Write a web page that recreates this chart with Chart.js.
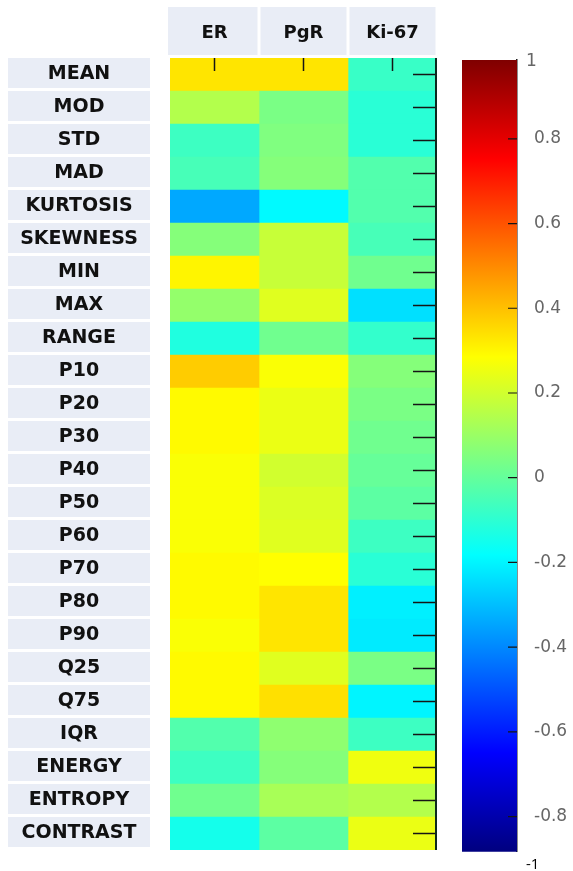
<!DOCTYPE html>
<html>
<head>
<meta charset="utf-8">
<title>Feature correlation heatmap</title>
<script src="https://cdn.jsdelivr.net/npm/chart.js@4"></script>
<style>
  html, body { margin: 0; padding: 0; background: #fff; }
  #wrap { position: relative; width: 573px; height: 871px; }
  #heatBox { position: absolute; left: 0; top: 0; width: 440px; height: 871px; }
  #scaleBox { position: absolute; left: 440px; top: 0; width: 133px; height: 871px; }
</style>
</head>
<body>
<div id="wrap">
  <div id="heatBox"><canvas id="heatChart"></canvas></div>
  <div id="scaleBox"><canvas id="scaleChart"></canvas></div>
</div>
<script>
'use strict'

// rows of the heatmap
let features = ['MEAN', 'MOD', 'STD', 'MAD', 'KURTOSIS', 'SKEWNESS', 'MIN', 'MAX', 'RANGE',
  'P10', 'P20', 'P30', 'P40', 'P50', 'P60', 'P70', 'P80', 'P90', 'Q25', 'Q75', 'IQR',
  'ENERGY', 'ENTROPY', 'CONTRAST'];

// columns
let markers = ['ER', 'PgR', 'Ki-67'];

// correlation values (jet map, -1..1)
let erValues = [0.30, 0.10, -0.13, -0.11, -0.42, 0.01, 0.27, 0.04, -0.19,
  0.35, 0.26, 0.26, 0.24, 0.24, 0.24, 0.26, 0.26, 0.24, 0.26, 0.26, -0.09,
  -0.13, -0.03, -0.21];
let pgrValues = [0.30, -0.01, 0.00, 0.01, -0.26, 0.14, 0.14, 0.19, -0.03,
  0.24, 0.21, 0.21, 0.16, 0.18, 0.19, 0.25, 0.30, 0.30, 0.19, 0.31, 0.03,
  0.01, 0.08, -0.07];
let ki67Values = [-0.14, -0.17, -0.17, -0.09, -0.09, -0.11, -0.03, -0.31, -0.15,
  0.01, -0.01, -0.03, -0.05, -0.07, -0.13, -0.17, -0.28, -0.29, -0.01, -0.27, -0.13,
  0.22, 0.10, 0.21];

// colour bar
let scaleTicks = [1, 0.8, 0.6, 0.4, 0.2, 0, -0.2, -0.4, -0.6, -0.8, -1];
let scaleTop = 0.986;
let scaleBottom = -0.883;

function jet(v) {
  let t = (v + 1) / 2;
  let clamp = x => Math.max(0, Math.min(1, x));
  let r = clamp(1.5 - Math.abs(4 * t - 3));
  let g = clamp(1.5 - Math.abs(4 * t - 2));
  let b = clamp(1.5 - Math.abs(4 * t - 1));
  return 'rgb(' + Math.round(r * 255) + ',' + Math.round(g * 255) + ',' + Math.round(b * 255) + ')';
}

let boxColor = '#e9edf6';
let headerFont = 'bold 18px "DejaVu Sans"';
let rowFont = 'bold 19px "DejaVu Sans"';

let heatDecor = {
  id: 'heatDecor',
  beforeDraw(chart) {
    let ctx = chart.ctx;
    let x = chart.scales.x;
    let y = chart.scales.y;
    let rowH = (y.bottom - y.top) / features.length;
    ctx.save();
    ctx.textAlign = 'center';
    ctx.textBaseline = 'middle';

    // column headers
    ctx.font = headerFont;
    for (let c = 0; c < markers.length; c++) {
      let x0 = x.getPixelForValue(c) + (c === 0 ? -2 : 1.5);
      let x1 = x.getPixelForValue(c + 1) - 1.5;
      ctx.fillStyle = boxColor;
      ctx.fillRect(x0, 7, x1 - x0, 48);
      ctx.fillStyle = '#111';
      ctx.fillText(markers[c], x.getPixelForValue(c + 0.5), 33);
    }

    // row labels
    ctx.font = rowFont;
    for (let i = 0; i < features.length; i++) {
      let yc = y.getPixelForValue(i);
      ctx.fillStyle = boxColor;
      ctx.fillRect(8, yc - rowH / 2, 142, rowH - 3);
      ctx.fillStyle = '#111';
      ctx.fillText(features[i], 79, yc);
    }
    ctx.restore();
  },
  afterDatasetsDraw(chart) {
    let ctx = chart.ctx;
    let x = chart.scales.x;
    let y = chart.scales.y;
    let area = chart.chartArea;
    ctx.save();
    ctx.strokeStyle = '#151515';
    ctx.lineWidth = 1.5;
    ctx.beginPath();
    for (let c = 0; c < markers.length; c++) {
      let px = x.getPixelForValue(c + 0.5);
      ctx.moveTo(px, area.top);
      ctx.lineTo(px, area.top + 13);
    }
    for (let i = 0; i < features.length; i++) {
      let py = y.getPixelForValue(i);
      ctx.moveTo(area.right - 24, py);
      ctx.lineTo(area.right, py);
    }
    ctx.stroke();
    ctx.strokeStyle = '#0d2a1f';
    ctx.lineWidth = 2;
    ctx.beginPath();
    ctx.moveTo(area.right - 1, area.top);
    ctx.lineTo(area.right - 1, area.bottom);
    ctx.stroke();
    ctx.restore();
  }
};

let columns = [erValues, pgrValues, ki67Values];
let heatDatasets = [];
for (let c = 0; c < markers.length; c++) {
  heatDatasets.push({
    label: markers[c],
    data: features.map(() => [c, c + 1]),
    backgroundColor: columns[c].map(jet),
    borderWidth: 0,
    barPercentage: 1,
    categoryPercentage: 1,
    grouped: false
  });
}

new Chart(document.getElementById('heatChart'), {
  type: 'bar',
  data: { labels: features, datasets: heatDatasets },
  options: {
    indexAxis: 'y',
    responsive: true,
    maintainAspectRatio: false,
    animation: false,
    layout: { padding: { left: 170, top: 58, right: 3, bottom: 21 } },
    scales: {
      x: { type: 'linear', min: 0, max: markers.length, display: false },
      y: { type: 'category', display: false, offset: true }
    },
    plugins: { legend: { display: false }, tooltip: { enabled: false } }
  },
  plugins: [heatDecor]
});

function jetGradient(context) {
  let chart = context.chart;
  let area = chart.chartArea;
  if (!area) return null;
  let g = chart.ctx.createLinearGradient(0, area.bottom, 0, area.top);
  g.addColorStop(0, '#00007f');
  g.addColorStop(0.125, '#0000ff');
  g.addColorStop(0.375, '#00ffff');
  g.addColorStop(0.625, '#ffff00');
  g.addColorStop(0.875, '#ff0000');
  g.addColorStop(1, '#7f0000');
  return g;
}

let scaleDecor = {
  id: 'scaleDecor',
  afterDatasetsDraw(chart) {
    let ctx = chart.ctx;
    let y = chart.scales.y;
    let area = chart.chartArea;
    ctx.save();
    ctx.strokeStyle = '#151515';
    ctx.lineWidth = 1.2;
    ctx.beginPath();
    scaleTicks.forEach(v => {
      if (v > scaleTop || v < scaleBottom) return;
      let py = y.getPixelForValue(v);
      ctx.moveTo(area.right - 9, py);
      ctx.lineTo(area.right, py);
    });
    ctx.stroke();
    // end labels sitting outside the scale range
    ctx.font = '17px "DejaVu Sans"';
    ctx.textBaseline = 'middle';
    ctx.textAlign = 'left';
    ctx.fillStyle = '#666';
    ctx.fillText(String(scaleTicks[0]), area.right + 9, area.top + 2);
    ctx.font = '15px "Open Sans"';
    ctx.fillStyle = '#000';
    ctx.fillText(String(scaleTicks[scaleTicks.length - 1]), area.right + 9, area.bottom + 13);
    ctx.restore();
  }
};

new Chart(document.getElementById('scaleChart'), {
  type: 'bar',
  data: {
    labels: [''],
    datasets: [{
      data: [[-1, 1]],
      backgroundColor: jetGradient,
      borderWidth: 0,
      barPercentage: 1,
      categoryPercentage: 1,
      clip: 0
    }]
  },
  options: {
    responsive: true,
    maintainAspectRatio: false,
    animation: false,
    layout: { padding: { left: 22, top: 60, bottom: 19, right: 0 } },
    scales: {
      x: { display: false },
      y: {
        position: 'right',
        min: scaleBottom,
        max: scaleTop,
        afterFit: s => { s.width = 56; },
        afterBuildTicks: s => {
          s.ticks = scaleTicks.filter(v => v <= scaleTop && v >= scaleBottom).map(v => ({ value: v }));
        },
        grid: { display: false },
        border: { display: true, color: '#1b1b1b', width: 1.5 },
        ticks: {
          padding: 9,
          color: '#666',
          font: { family: 'DejaVu Sans', size: 17 },
          callback: v => String(v)
        }
      }
    },
    plugins: { legend: { display: false }, tooltip: { enabled: false } }
  },
  plugins: [scaleDecor]
});
</script>
</body>
</html>
